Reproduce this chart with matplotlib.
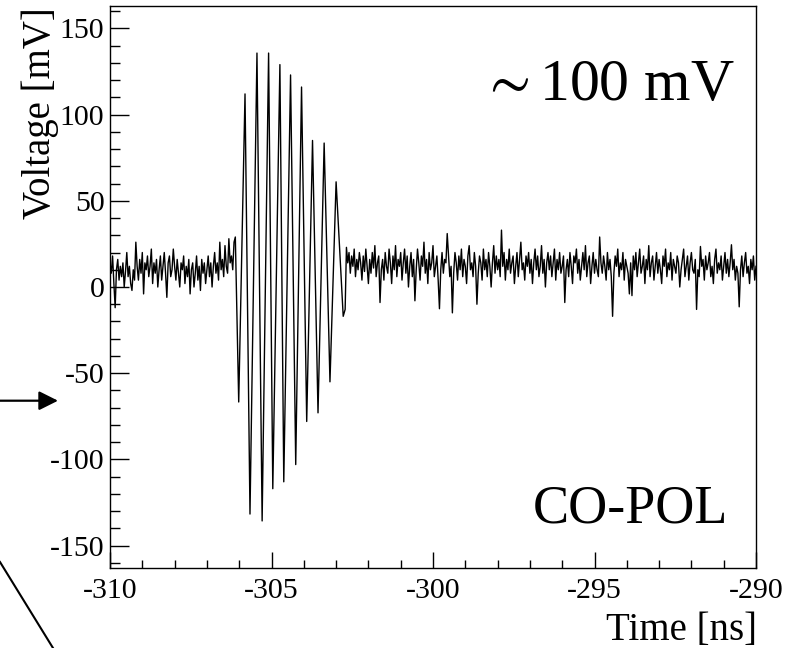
import numpy as np
import matplotlib.pyplot as plt
from matplotlib.lines import Line2D
from matplotlib.patches import FancyArrowPatch

plt.rcParams['font.family'] = ['Liberation Serif', 'DejaVu Serif']
plt.rcParams['mathtext.fontset'] = 'stix'
plt.rcParams['axes.unicode_minus'] = False

# sampling step of the scope trace [ns]
dt = 0.04

# noise before the pulse, starting at -310 ns [mV]
pre_start = -310.0
pre_noise = [14, 8, 18, 2, -12, 10, 16, 4, 12, 6, 14, 0, 9, 20, 6, 12, 2, -2, 10, 4,
             26, 12, 4, 16, 8, 20, -4, 14, 10, 18, 6, 12, 22, 2, 14, 8, 16, 0, 10, 18,
             4, 12, 20, 8, -6, 14, 18, 6, 10, 22, 12, 4, 16, 8, 0, 14, 10, 18, 2, 12,
             6, 16, -4, 10, 14, 0, 8, 18, 4, 12, -2, 16, 8, 14, 2, 10, 18, 6, 14, 0,
             12, 20, 8, 14, 4, 26, 10, 16, 6, 24, 12, 8, 28, 14, 18, 10, 26, 29]

# the pulse itself: peaks and troughs
burst_time = [-306.015, -305.82, -305.666, -305.45, -305.29, -305.09, -304.96,
              -304.74, -304.62, -304.41, -304.25, -304.07, -303.91, -303.73,
              -303.56, -303.37, -303.19, -303.00, -302.78, -302.72]
burst_volt = [-66.7, 112, -131.7, 135.7, -135.7, 135.7, -117,
              129, -113, 123, -103, 116, -78, 85,
              -73, 83.5, -55, 61, -17, -13]

# noise after the pulse [mV]
post_start = -302.68
post_noise = [23, 14, 20, 8, 18, 12, 22, 6, 16, 10, 20, 14, 4, 18, 9, 22, 12, 2, 16, 8,
              20, 11, 24, 6, 14, 18, -9, 10, 16, 4, 20, 12, 8, 22, 14, 2, 18, 10, 24, 6,
              16, 12, 20, 4, 14, 22, 8, 18, 0, 12, 20, 6, 16, -8, 10, 22, 14, 4, 18, 12,
              26, 8, 16, 2, 20, 10, 14, 24, 6, 12, 18, 4, -12.6, 10, 20, 8, 16, 14, 31, 18,
              6, 12, -15, 8, 20, 14, 4, 18, 10, 22, 6, 16, 12, 2, 18, 24, 10, 14, 6, 20,
              12, -10, 8, 18, 14, 4, 22, 10, 16, 6, 20, 12, 0, 14, 24, 8, 18, 10, 16, 6,
              33, 12, 20, 4, 16, 10, 22, 8, 14, 18, 2, 12, 20, 6, 16, 26, 10, 14, 4, 18,
              12, 20, 8, 16, 2, 14, 22, 10, 18, 6, 12, 24, 8, 16, 0, 14, 20, 10, 18, 6,
              14, 22, 4, 16, 10, 20, 8, 12, 18, -9, 10, 16, 6, 20, 12, 2, 18, 14, 22, 8,
              16, 4, 12, 20, 10, 24, 6, 14, 18, 2, 12, 20, 8, 16, 10, 6, 29, 14, 8, 18,
              12, 4, 20, 10, 16, 6, -17, 8, 18, 12, 22, 6, 14, 10, 20, 4, 16, 12, 8, -4,
              14, -5, 18, 10, 20, 6, 14, 22, 8, 12, 18, 2, 16, 10, 24, 6, 14, 18, 4, 12,
              20, 8, 16, 10, 2, 18, 12, 22, 6, 14, 10, 20, 4, 16, 12, 8, 18, 14, 0, 10,
              16, 22, 6, 12, 18, 4, 14, 20, 10, 8, 16, -13, 10, 6, 23.5, 12, 16, 4, 18, 10,
              14, 20, 6, 12, 2, 16, 22, 8, 14, 10, 18, 4, 12, 20, 8, 16, 6, 14, 24.5, 10,
              16, 4, 12, 8, -11.5, 10, 18, 6, 14, 20, 8, 12, 2, 16, 10, 18, 4, 12]

x_ticks = [-310, -305, -300, -295, -290]
x_tick_labels = ['-310', '-305', '-300', '-295', '-290']
y_ticks = [-150, -100, -50, 0, 50, 100, 150]
y_tick_labels = ['-150', '-100', '-50', '0', '50', '100', '150']

t_pre = pre_start + dt * np.arange(len(pre_noise))
t_post = post_start + dt * np.arange(len(post_noise))
time = np.concatenate([t_pre, burst_time, t_post])
volt = np.concatenate([pre_noise, burst_volt, post_noise])

fig = plt.figure(figsize=(8.05, 6.48), dpi=100)
ax = fig.add_axes([110 / 805, 80 / 648, 646 / 805, 562 / 648])
ax.plot(time, volt, color='k', lw=1.0)

ax.set_xlim(-310, -290)
ax.set_ylim(-163, 163)
ax.set_xticks(x_ticks)
ax.set_xticklabels(x_tick_labels)
ax.set_yticks(y_ticks)
ax.set_yticklabels(y_tick_labels)
ax.set_xticks(np.arange(-310, -289, 1), minor=True)
ax.set_yticks(np.arange(-160, 161, 10), minor=True)
ax.tick_params(which='both', direction='in', top=False, right=False, labelsize=21.5, width=1.0)
ax.tick_params(axis='y', which='major', length=13.7, pad=4)
ax.tick_params(axis='y', which='minor', length=7.2)
ax.tick_params(axis='x', which='major', length=11.5, pad=7)
ax.tick_params(axis='x', which='minor', length=5.8)
for s in ax.spines.values():
    s.set_linewidth(1.0)

ax.text(-298.5, 108.6, r'$\sim$100 mV', ha='left', va='baseline', fontsize=43)
ax.text(-290.87, -136.7, 'CO-POL', ha='right', va='baseline', fontsize=39)

fig.text(757 / 805, 1 - 640 / 648, 'Time [ns]', ha='right', va='baseline', fontsize=28)
fig.text(40 / 805, 1 - 7 / 648, 'Voltage [mV]', rotation=90, ha='center', va='top', fontsize=28)

# pieces of the surrounding figure: arrow and a slanted line
fig.patches.append(FancyArrowPatch(
    (0, 1 - 400.7 / 648), (58 / 805, 1 - 400.7 / 648), transform=fig.transFigure,
    arrowstyle='-|>', mutation_scale=29, lw=1.6, color='k', shrinkA=0, shrinkB=0))
fig.lines.append(Line2D([0, 53 / 805], [1 - 562 / 648, 0], transform=fig.transFigure,
                        color='k', lw=1.5))

fig.savefig('out.png', dpi=100)
